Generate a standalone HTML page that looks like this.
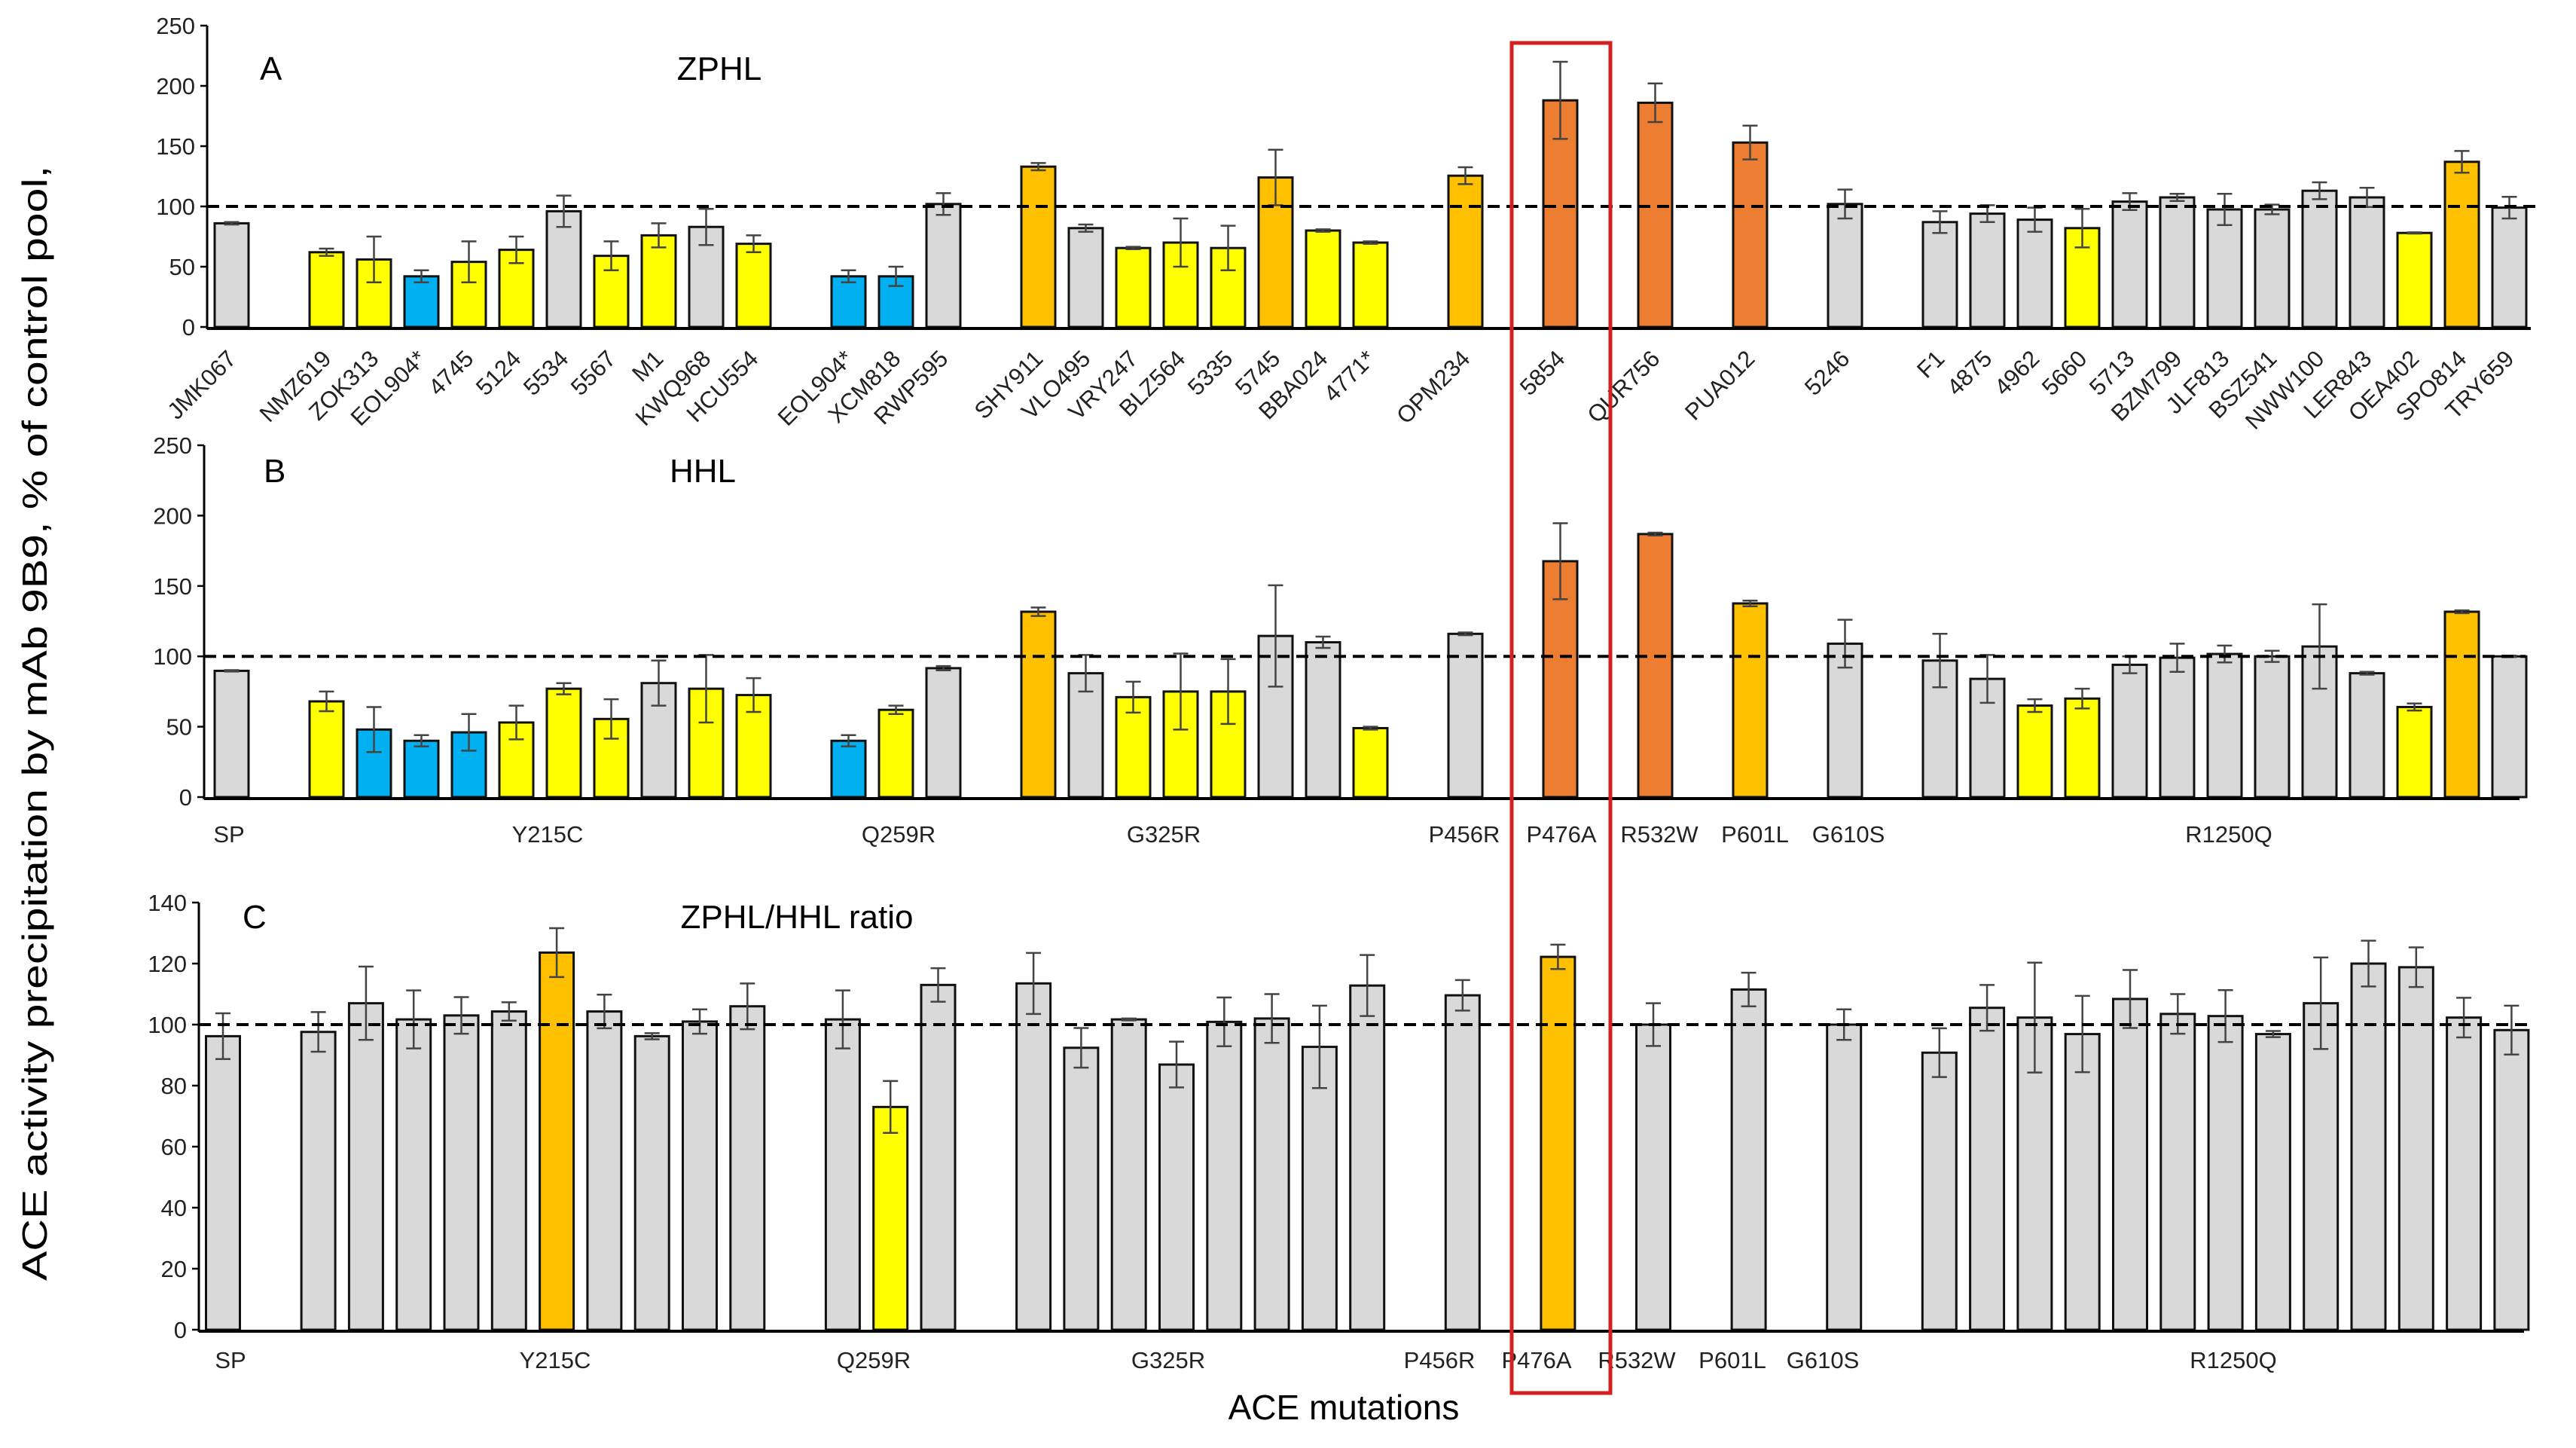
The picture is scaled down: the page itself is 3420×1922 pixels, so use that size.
<!DOCTYPE html>
<html><head><meta charset="utf-8"><style>
html,body{margin:0;padding:0;background:#fff;}
svg{display:block;font-family:"Liberation Sans",sans-serif;}
</style></head><body>
<svg id="chart" width="3420" height="1922" viewBox="0 0 3420 1922" xmlns="http://www.w3.org/2000/svg">
<text transform="translate(62,960) rotate(-90)" text-anchor="middle" font-size="46" textLength="1480" lengthAdjust="spacingAndGlyphs">ACE activity precipitation by mAb 9B9, % of control pool,</text>
<text x="1784" y="1884" text-anchor="middle" font-size="46">ACE mutations</text>
<text x="345" y="106" font-size="44">A</text>
<text x="955" y="106" text-anchor="middle" font-size="44">ZPHL</text>
<text x="350" y="640" font-size="44">B</text>
<text x="933" y="640" text-anchor="middle" font-size="44">HHL</text>
<text x="322" y="1232" font-size="44">C</text>
<text x="1058" y="1232" text-anchor="middle" font-size="44">ZPHL/HHL ratio</text>
<g id="plots"></g>
<rect x="2007" y="57" width="131" height="1792" fill="none" stroke="#d42020" stroke-width="5"/>
</svg>
<script>
const labelsA = ["JMK067","NMZ619","ZOK313","EOL904*","4745","5124","5534","5567","M1","KWQ968","HCU554","EOL904*","XCM818","RWP595","SHY911","VLO495","VRY247","BLZ564","5335","5745","BBA024","4771*","OPM234","5854","QUR756","PUA012","5246","F1","4875","4962","5660","5713","BZM799","JLF813","BSZ541","NWW100","LER843","OEA402","SPO814","TRY659"];
const slots = [0,2,3,4,5,6,7,8,9,10,11,13,14,15,17,18,19,20,21,22,23,24,26,28,30,32,34,36,37,38,39,40,41,42,43,44,45,46,47,48];
const valuesA = [86,62,56,42,54,64,96,59,76,83,69,42,42,102,133,82,65.5,70,65.5,124,80,70,125.5,188,186,153,102,87,94,89,82,104,107.5,97.5,97.5,113,107.5,78,137,99];
const errA = [1,3,19,5,17,11,13,12,10,15,7,5,8,9,3,3,1,20,18.5,23,1,1,7,32,16,14,12,9,7,10,16,7,3,13,4,7,8,0.5,9,9];
const colorsA = "GYYBYYGYYGYBBGOGYYYOYYORRRGGGGYGGGGGGYOG";
const valuesB = [89.7,68,48,40,46,53,77,55.5,81,77,72.5,40,62,91.6,131.7,88,71,75,75,114.5,110,49,116,167.6,186.9,137.6,109,97,84,65,70,94,99,101.7,100,107,88,64,131.7,100];
const errB = [0.5,7,16,4,13,12,4,14,16,24,12,4,3,1.5,3,13,11,27,23,36,4,1,1,27,1,2,17,19,17,4.5,7,6,10,6,4,30,1,2.5,1,0.5];
const colorsB = "GYBBBYYYGYYBYGOGYYYGGYGRROGGGYYGGGGGGYOG";
const valuesC = [96.2,97.6,107,101.7,103,104.3,123.6,104.3,96.2,101,106,101.7,73,113,113.5,92.4,101.7,86.9,100.9,102,92.7,112.8,109.6,122.2,100,111.5,100,90.8,105.5,102.3,96.9,108.4,103.5,102.8,96.9,107,120,118.8,102.3,98.2];
const errC = [7.5,6.5,12,9.5,6,3,8,5.5,1,4,7.5,9.5,8.5,5.5,10,6.5,0.3,7.5,8,8,13.5,10,5,4,7,5.5,5,8,7.5,18,12.5,9.5,6.5,8.5,1,15,7.5,6.5,6.5,8];
const colorsC = "GGGGGGOGGGGGYGGGGGGGGGGOGGGGGGGGGGGGGGGG";
const groupNames = ["SP","Y215C","Q259R","G325R","P456R","P476A","R532W","P601L","G610S","R1250Q"];
const ticksAB = [0,50,100,150,200,250];
const ticksC = [0,20,40,60,80,100,120,140];

const palette = {G:"#d9d9d9",Y:"#ffff00",B:"#00b0f0",O:"#ffc000",R:"#ed7d31"};
const NS = "http://www.w3.org/2000/svg";
const root = document.getElementById("plots");
function mk(tag, attrs, parent){const e=document.createElementNS(NS,tag);for(const k in attrs)e.setAttribute(k,attrs[k]);(parent||root).appendChild(e);return e;}

const panels = [
 {id:"a", axisX:275, y0:434, yTop:34, max:250, ticks:ticksAB, x0:307.5, step:63.0, endX:3360, vals:valuesA, errs:errA, cols:colorsA},
 {id:"b", axisX:271, y0:1058, yTop:591, max:250, ticks:ticksAB, x0:307.5, step:63.0, endX:3345, vals:valuesB, errs:errB, cols:colorsB, groupY:1118, groupX:[304,727,1193,1545,1944,2073,2203,2330,2454,2959]},
 {id:"c", axisX:264, y0:1765, yTop:1198, max:140, ticks:ticksC, x0:296, step:63.3, endX:3351, vals:valuesC, errs:errC, cols:colorsC, groupY:1816, groupX:[306,737,1160,1551,1911,2040,2173,2300,2420,2965]}
];

panels.forEach(p=>{
  const g = mk("g",{});
  
  
  const yS = v => p.y0 - (v/p.max)*(p.y0-p.yTop);
  const xS = i => p.x0 + slots[i]*p.step;
  const bw = 45;
  p.vals.forEach((v,i)=>{
    const x = xS(i), y = yS(v);
    const r = mk("rect",{x:x-bw/2,y:y,width:bw,height:p.y0-y,fill:palette[p.cols[i]],stroke:"#111","stroke-width":3},g);
    
    
    const e = p.errs[i];
    const eg = mk("g",{stroke:"#444","stroke-width":2.5},g);
    
    
    mk("line",{x1:x,x2:x,y1:yS(v+e),y2:yS(v-e)},eg);
    mk("line",{x1:x-10,x2:x+10,y1:yS(v+e),y2:yS(v+e)},eg);
    mk("line",{x1:x-10,x2:x+10,y1:yS(v-e),y2:yS(v-e)},eg);
  });
  const d = mk("line",{x1:p.axisX,x2:p.endX+8,y1:yS(100),y2:yS(100),stroke:"#000","stroke-width":4,"stroke-dasharray":"16 9"},g);
  
  
  const ya = mk("line",{x1:p.axisX,x2:p.axisX,y1:p.yTop,y2:p.y0+3,stroke:"#000","stroke-width":3},g);
  
  
  const xa = mk("line",{x1:p.axisX,x2:p.endX,y1:p.y0+2,y2:p.y0+2,stroke:"#000","stroke-width":4},g);
  
  
  p.ticks.forEach(t=>{
    mk("line",{x1:p.axisX-9,x2:p.axisX,y1:yS(t),y2:yS(t),stroke:"#000","stroke-width":2.5},g);
    const tl = mk("text",{x:p.axisX-16,y:yS(t)+11,"text-anchor":"end","font-size":31,fill:"#222"},g);
    tl.textContent = t;
    
    
  });
  if(p.id==="a"){
    labelsA.forEach((l,i)=>{
      const x = xS(i)+8, y = 478;
      const t = mk("text",{x:x,y:y,"text-anchor":"end","font-size":31,fill:"#222",transform:`rotate(-45 ${x} ${y})`},g);
      t.textContent = l;
      
      
    });
  } else {
    groupNames.forEach((n,i)=>{
      const t = mk("text",{x:p.groupX[i],y:p.groupY,"text-anchor":"middle","font-size":31,fill:"#222"},g);
      t.textContent = n;
      
      
    });
  }
});
</script>
</body></html>
